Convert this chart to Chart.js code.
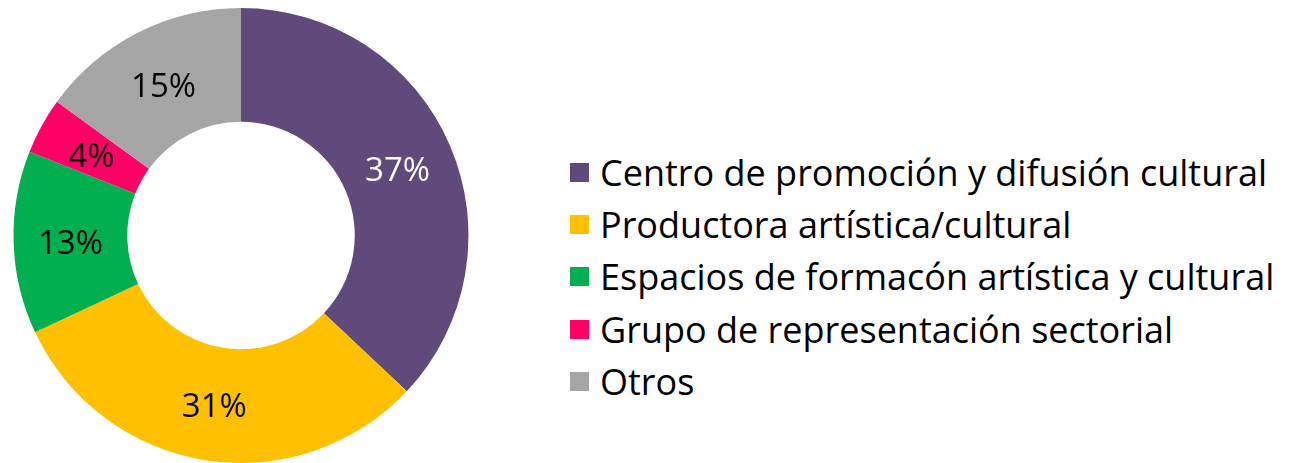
<!DOCTYPE html>
<html>
<head>
<meta charset="utf-8">
<script src="https://cdn.jsdelivr.net/npm/chart.js@4.4.0/dist/chart.umd.min.js"></script>
<style>
  html, body { margin: 0; padding: 0; background: #fff; }
  #wrap { position: relative; width: 1307px; height: 463px; overflow: hidden; }
  #chartBox { position: absolute; left: 0; top: 0; width: 482px; height: 463px; }
  #legend { position: absolute; left: 570px; top: 146px; font-family: 'Open Sans', sans-serif; font-size: 36px; color: #000; }
  .item { height: 52.3px; display: flex; align-items: center; white-space: nowrap; }
  .sw { width: 19px; height: 19px; margin-right: 11px; flex: none; }
</style>
</head>
<body>
<div id="wrap">
  <div id="chartBox"><canvas id="myChart"></canvas></div>
  <div id="legend"></div>
</div>
<script>
// Datos
var categorias = [
  'Centro de promoción y difusión cultural',
  'Productora artística/cultural',
  'Espacios de formacón artística y cultural',
  'Grupo de representación sectorial',
  'Otros'
];
var porcentajes = [37, 31, 13, 4, 15];
var colores = ['#604A7B', '#FFC000', '#00B050', '#FF0066', '#A5A5A5'];
var coloresTexto = ['#FFFFFF', '#000000', '#000000', '#000000', '#000000'];

// Etiquetas de porcentaje en el centro de cada sector
var etiquetas = {
  id: 'etiquetas',
  afterDatasetsDraw: function(chart) {
    var ctx = chart.ctx;
    var meta = chart.getDatasetMeta(0);
    ctx.save();
    ctx.font = "33px 'Open Sans', sans-serif";
    ctx.textAlign = 'center';
    ctx.textBaseline = 'middle';
    meta.data.forEach(function(arc, i) {
      var p = arc.getCenterPoint();
      ctx.fillStyle = coloresTexto[i];
      ctx.fillText(porcentajes[i] + '%', p.x, p.y + 4);
    });
    ctx.restore();
  }
};

var ctx = document.getElementById('myChart').getContext('2d');
var myChart = new Chart(ctx, {
  type: 'doughnut',
  data: {
    labels: categorias,
    datasets: [{
      data: porcentajes,
      backgroundColor: colores,
      borderWidth: 0
    }]
  },
  options: {
    responsive: true,
    maintainAspectRatio: false,
    animation: false,
    cutout: '50%',
    layout: { padding: { left: 13, right: 13, top: 8, bottom: 0 } },
    plugins: {
      legend: { display: false },
      tooltip: { enabled: false }
    }
  },
  plugins: [etiquetas]
});

// Leyenda
var leg = document.getElementById('legend');
categorias.forEach(function(c, i) {
  var row = document.createElement('div');
  row.className = 'item';
  var sw = document.createElement('span');
  sw.className = 'sw';
  sw.style.background = colores[i];
  var t = document.createElement('span');
  t.textContent = c;
  row.appendChild(sw);
  row.appendChild(t);
  leg.appendChild(row);
});
</script>
</body>
</html>
